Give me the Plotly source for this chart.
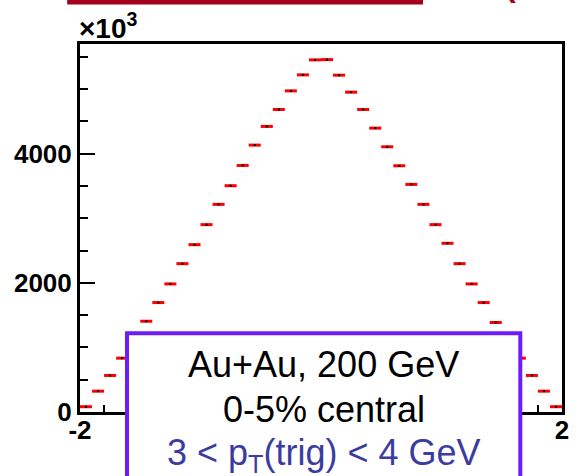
import plotly.graph_objects as go

# Histogram contents, in units of 10^3 counts, for 40 bins of width 0.1 over [-2, 2]
bin_centers = [-1.95, -1.85, -1.75, -1.65, -1.55, -1.45, -1.35, -1.25, -1.15, -1.05,
               -0.95, -0.85, -0.75, -0.65, -0.55, -0.45, -0.35, -0.25, -0.15, -0.05,
               0.05, 0.15, 0.25, 0.35, 0.45, 0.55, 0.65, 0.75, 0.85, 0.95,
               1.05, 1.15, 1.25, 1.35, 1.45, 1.55, 1.65, 1.75, 1.85, 1.95]
counts = [82, 323, 566, 834, 1120, 1406, 1695, 1984, 2298, 2592,
          2902, 3216, 3505, 3819, 4134, 4423, 4686, 4974, 5222, 5454,
          5458, 5217, 4954, 4686, 4397, 4108, 3814, 3525, 3216, 2902,
          2613, 2298, 1984, 1695, 1386, 1110, 834, 566, 323, 82]
half_width = [0.05] * len(bin_centers)

x_tickvals = [-2, 2]
x_ticktext = ["-2", "2"]
y_tickvals = [0, 2000, 4000]
y_ticktext = ["0", "2000", "4000"]

label_lines = ["Au+Au, 200 GeV", "0-5% central", "3 < p<sub>T</sub>(trig) < 4 GeV"]

W, H = 578, 476
PL, PR, PT, PB = 80, 569, 44, 412


def fx(px):
    return (px - PL) / (PR - PL)


def fy(py):
    return (PB - py) / (PB - PT)


FONT = "Arial, Liberation Sans, sans-serif"

fig = go.Figure()
fig.add_trace(go.Scatter(
    x=bin_centers, y=counts, mode="markers",
    marker=dict(symbol="square", size=2, color="black", line=dict(width=0)),
    error_x=dict(type="data", array=half_width, symmetric=True,
                 color="#ff0000", thickness=3, width=0),
    showlegend=False, hoverinfo="skip",
))

axis_common = dict(
    showline=True, linecolor="black", linewidth=3, mirror=True,
    ticks="inside", tickcolor="black", tickwidth=2,
    showgrid=False, zeroline=False,
    tickfont=dict(family=FONT, size=26, color="black", weight="bold"),
)

fig.update_xaxes(range=[-2, 2], tickmode="array", tickvals=x_tickvals, ticktext=x_ticktext,
                 ticklen=14, ticklabelstandoff=-7,
                 minor=dict(ticks="inside", ticklen=7, dtick=0.2,
                            tickcolor="black", tickwidth=2, showgrid=False),
                 **axis_common)
fig.update_yaxes(range=[0, 5700], tickmode="array", tickvals=y_tickvals, ticktext=y_ticktext,
                 ticklen=15, minor=dict(ticks="inside", ticklen=8, dtick=500,
                                        tickcolor="black", tickwidth=2, showgrid=False),
                 **axis_common)

shapes = [
    # title bar across the top of the page
    dict(type="rect", xref="paper", yref="paper",
         x0=fx(67), x1=fx(428), y0=fy(4.5), y1=fy(-2),
         fillcolor="#a3001e", line=dict(width=0), layer="above"),
    # label box over the lower part of the frame
    dict(type="rect", xref="paper", yref="paper",
         x0=fx(127.7), x1=fx(526.7), y0=fy(490), y1=fy(333.3),
         fillcolor="white", line=dict(color="#6e1ef5", width=4), layer="above"),
]

cx = fx((127.7 + 526.7) / 2)
line_mid = [364.5, 409.5, 454.5]
line_col = ["black", "black", "#3c3ca0"]
annotations = [
    dict(text="\u00d710<sup>3</sup>", xref="paper", yref="paper",
         x=fx(77), y=fy(46), xanchor="left", yanchor="bottom", showarrow=False,
         font=dict(family=FONT, size=28, color="black", weight="bold")),
    dict(text="(", xref="paper", yref="paper", x=fx(509), y=fy(5), xanchor="left",
         yanchor="bottom", showarrow=False,
         font=dict(family=FONT, size=32, color="#a3001e", weight="bold")),
    dict(text="/", xref="paper", yref="paper", x=fx(562), y=fy(5), xanchor="left",
         yanchor="bottom", showarrow=False,
         font=dict(family=FONT, size=32, color="#a3001e", weight="bold")),
]
for t, ym, c in zip(label_lines, line_mid, line_col):
    annotations.append(dict(text=t, xref="paper", yref="paper", x=cx, y=fy(ym),
                            xanchor="center", yanchor="middle", showarrow=False,
                            font=dict(family=FONT, size=36, color=c)))

fig.update_layout(
    width=W, height=H,
    margin=dict(l=PL, r=W - PR, t=PT, b=H - PB, pad=0),
    paper_bgcolor="white", plot_bgcolor="white",
    shapes=shapes, annotations=annotations,
)

fig.write_html("out.html")
